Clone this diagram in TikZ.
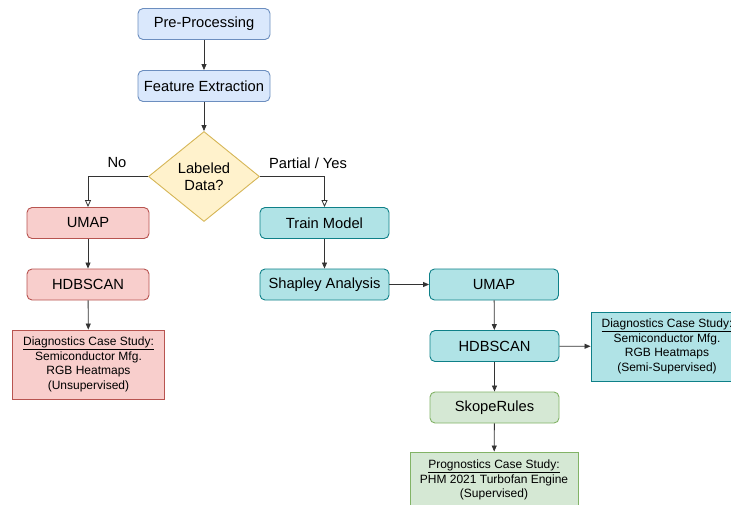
\documentclass[tikz,border=0pt]{standalone}
\usepackage{fontspec}
\setmainfont{Liberation Sans}
\usetikzlibrary{arrows.meta,shapes.geometric}
\definecolor{bluefill}{HTML}{DAE8FC}
\definecolor{blueline}{HTML}{6C8EBF}
\definecolor{yelfill}{HTML}{FFF2CC}
\definecolor{yelline}{HTML}{D6B656}
\definecolor{redfill}{HTML}{F8CECC}
\definecolor{redline}{HTML}{B85450}
\definecolor{cyanfill}{HTML}{B0E3E6}
\definecolor{cyanline}{HTML}{0E8088}
\definecolor{grnfill}{HTML}{D5E8D4}
\definecolor{grnline}{HTML}{82B366}
\definecolor{edgecol}{HTML}{333333}
\tikzset{
  procbox/.style={rounded corners=5pt, draw, line width=0.9pt, minimum width=129pt, minimum height=31pt, inner sep=0pt, font=\fontsize{14.7}{17}\selectfont},
  bluebox/.style={procbox, fill=bluefill, draw=blueline, minimum width=132pt},
  redbox/.style={procbox, fill=redfill, draw=redline, minimum width=122pt},
  cyanbox/.style={procbox, fill=cyanfill, draw=cyanline},
  grnbox/.style={procbox, fill=grnfill, draw=grnline},
  casebox/.style={draw, line width=0.9pt, minimum height=69pt, inner sep=0pt, align=center, font=\fontsize{12}{14.6}\selectfont},
  decide/.style={diamond, draw=yelline, fill=yelfill, line width=0.9pt, minimum width=111pt, minimum height=90pt, inner sep=0pt, aspect=1.23, align=center, font=\fontsize{14.7}{17}\selectfont},
  lbl/.style={font=\fontsize{14.7}{17}\selectfont, inner sep=0pt},
  flow/.style={draw=edgecol, line width=0.8pt, -{Triangle[length=6pt,width=5pt]}},
  openflow/.style={draw=edgecol, line width=0.8pt, -{Triangle[open,length=7pt,width=6pt,fill=white]}}
}
\begin{document}
\begin{tikzpicture}[x=1pt,y=-1pt]
\clip (0,0) rectangle (731,504);
\fill[white] (0,0) rectangle (731,504);

\node[bluebox] (pre) at (204,24) {Pre-Processing};
\node[bluebox] (fe) at (204,86) {Feature Extraction};
\node[decide] (lab) at (204,176.5) {Labeled\\Data?};

\node[redbox] (umapL) at (88,223) {UMAP};
\node[redbox] (hdbL) at (88,284.5) {HDBSCAN};
\node[casebox, fill=redfill, draw=redline, minimum width=152pt] (diagL) at (88.5,364.5) {\underline{Diagnostics Case Study:}\\Semiconductor Mfg.\\RGB Heatmaps\\(Unsupervised)};

\node[cyanbox] (train) at (324.5,223) {Train Model};
\node[cyanbox] (shap) at (324.5,284.5) {Shapley Analysis};
\node[cyanbox] (umapR) at (494,284.5) {UMAP};
\node[cyanbox] (hdbR) at (494.5,346) {HDBSCAN};
\node[casebox, fill=cyanfill, draw=cyanline, minimum width=152pt] (diagR) at (667,346.5) {\underline{Diagnostics Case Study:}\\Semiconductor Mfg.\\RGB Heatmaps\\(Semi-Supervised)};
\node[grnbox] (skope) at (494.5,407.5) {SkopeRules};
\node[casebox, fill=grnfill, draw=grnline, minimum width=168pt, minimum height=56pt] (prog) at (494,480) {\underline{Prognostics Case Study:}\\PHM 2021 Turbofan Engine\\(Supervised)};

\node[lbl] (no) at (117,163) {No};
\node[lbl] (yes) at (308,163) {Partial / Yes};

\draw[flow] (pre) -- (fe);
\draw[flow] (fe) -- (lab);
\draw[openflow] (lab.west) -| (umapL.north);
\draw[openflow] (lab.east) -| (train.north);
\draw[flow] (umapL) -- (hdbL);
\draw[flow] (hdbL) -- (diagL);
\draw[flow] (train) -- (shap);
\draw[flow] (shap) -- (umapR);
\draw[flow] (umapR) -- (hdbR);
\draw[flow] (hdbR) -- (diagR);
\draw[flow] (hdbR) -- (skope);
\draw[flow] (skope) -- (prog);
\end{tikzpicture}
\end{document}
